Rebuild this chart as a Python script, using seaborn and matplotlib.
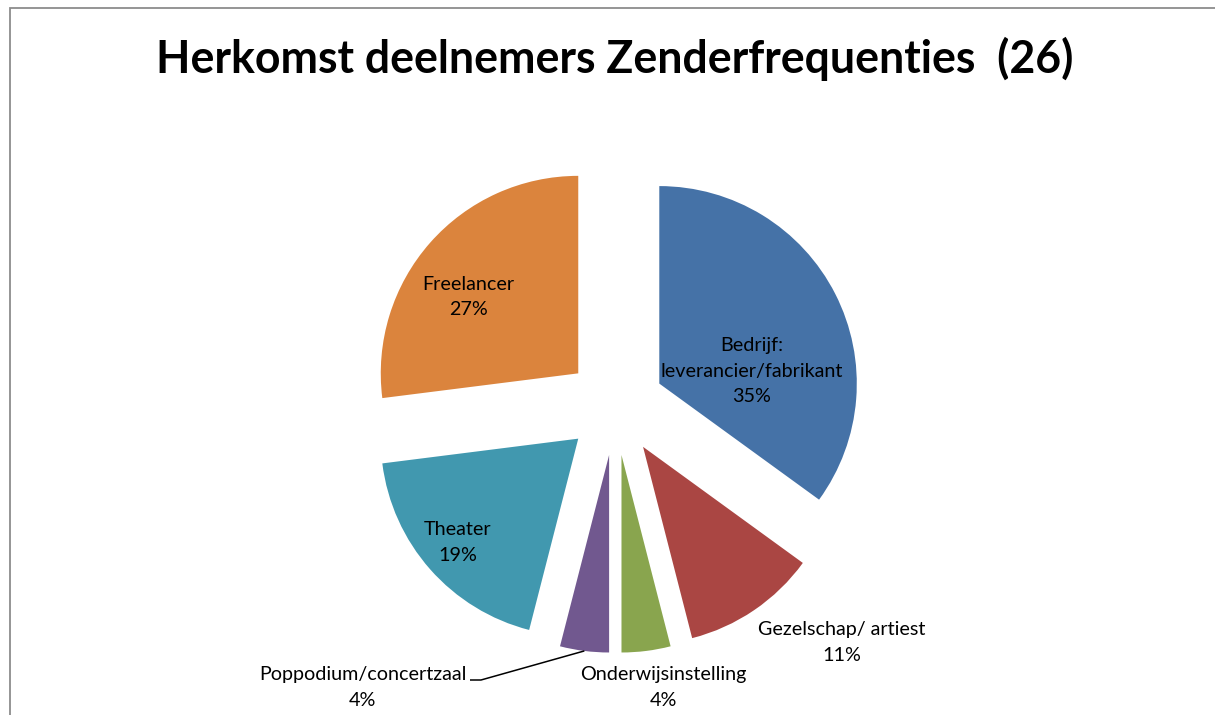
import matplotlib
matplotlib.use("Agg")
import matplotlib.pyplot as plt
from matplotlib.patches import Rectangle
import numpy as np
import seaborn as sns

# ---------------- data ----------------
categories = ["Bedrijf:\nleverancier/fabrikant", "Gezelschap/ artiest", "Onderwijsinstelling",
              "Poppodium/concertzaal", "Theater", "Freelancer"]
percentages = [35, 11, 4, 4, 19, 27]
pct_labels = ["35%", "11%", "4%", "4%", "19%", "27%"]
title_text = "Herkomst deelnemers Zenderfrequenties  (26)"
slice_colors = ["#4572A7", "#AA4643", "#89A54E", "#71588F", "#4198AF", "#DB843D"]

# ---------------- layout ----------------
W, H, DPI = 1215, 715, 100
CX, CY, R = 615.3, 406.0, 197.5       # pie centre / radius in pixels
EXPLODE = 0.25

sns.set_theme(style="white")
plt.rcParams["font.family"] = ["Lato", "DejaVu Sans"]

fig = plt.figure(figsize=(W / DPI, H / DPI), dpi=DPI)
fig.patch.set_facecolor("white")
ax = fig.add_axes([0, 0, 1, 1])

palette = sns.color_palette(slice_colors)
wedges, _ = ax.pie(percentages, colors=palette, startangle=90, counterclock=False,
                   explode=[EXPLODE] * len(percentages), radius=1.0,
                   wedgeprops=dict(linewidth=0))

ax.set_aspect("auto")
ax.set_xlim(-CX / R, (W - CX) / R)
ax.set_ylim((CY - H) / R, CY / R)
ax.axis("off")


def px(x, y):
    return (x - CX) / R, (CY - y) / R


renderer = fig.canvas.get_renderer()

# label font size fitted so "leverancier/fabrikant" is ~182 px wide
probe = ax.text(0, 0, "leverancier/fabrikant", fontsize=15)
w = probe.get_window_extent(renderer).width
label_fs = 15 * 182 / w
probe.remove()

# label anchors: centre x and first baseline (pixels)
label_pos = [(752, 351), (842, 635), (663, 680), (362.5, 680), (458, 535), (468, 289.5)]
LINE_GAP = 25.6
for cat, pl, (lx, ly) in zip(categories, pct_labels, label_pos):
    lines = cat.split("\n") + [pl]
    for i, ln in enumerate(lines):
        x, y = px(lx, ly + i * LINE_GAP)
        ax.text(x, y, ln, ha="center", va="baseline", fontsize=label_fs, color="black")

# leader line for Poppodium/concertzaal to the middle of its arc
wp = wedges[3]
mid = np.deg2rad((wp.theta1 + wp.theta2) / 2)
ex = wp.center[0] + wp.r * np.cos(mid)
ey = wp.center[1] + wp.r * np.sin(mid)
x0, y0 = px(470, 680)
x1, y1 = px(481, 680)
ax.plot([x0, x1, ex], [y0, y1, ey], color="black", lw=1.1, solid_capstyle="butt")

# title, fitted to ~916 px width
t = fig.text(615 / W, 1 - 73 / H, title_text, ha="center", va="baseline",
             fontsize=30, fontweight="bold", color="black")
tw = t.get_window_extent(renderer).width
t.set_fontsize(30 * 916 / tw)

# chart frame (left and top edges visible)
fig.patches.append(Rectangle((10 / W, -0.05), 1.2, (1 - 8 / H) + 0.05,
                             transform=fig.transFigure, fill=False,
                             edgecolor="#8c8c8c", linewidth=1.3))

fig.savefig("out.png", dpi=DPI, facecolor="white")
